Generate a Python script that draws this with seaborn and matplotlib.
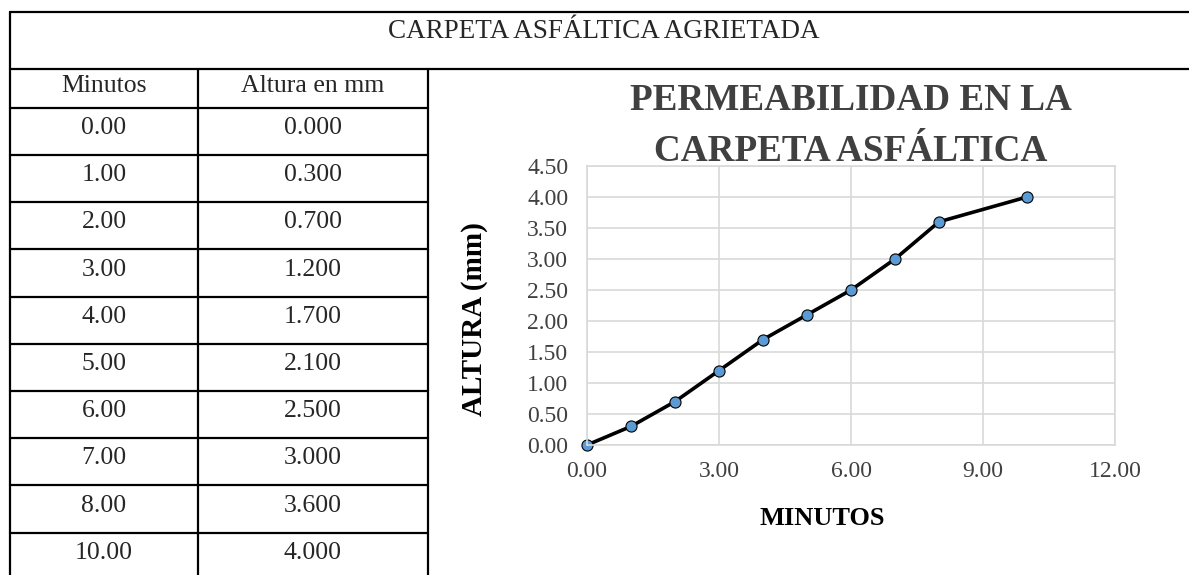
import matplotlib
matplotlib.use("Agg")
import matplotlib.pyplot as plt
import seaborn as sns
from matplotlib.lines import Line2D

minutos = [0.0, 1.0, 2.0, 3.0, 4.0, 5.0, 6.0, 7.0, 8.0, 10.0]
altura = [0.0, 0.3, 0.7, 1.2, 1.7, 2.1, 2.5, 3.0, 3.6, 4.0]
table_title = "CARPETA ASFÁLTICA AGRIETADA"
col_headers = ["Minutos", "Altura en mm"]
chart_title = ["PERMEABILIDAD EN LA", "CARPETA ASFÁLTICA"]
x_ticks = [0, 3, 6, 9, 12]
y_ticks = [0, 0.5, 1, 1.5, 2, 2.5, 3, 3.5, 4, 4.5]

sns.set_theme(style="white")
plt.rcParams['font.family'] = ['Liberation Serif', 'DejaVu Serif']

W, H = 1189, 575
fig = plt.figure(figsize=(W / 100, H / 100), dpi=100)


def fx(x):
    return x / W


def fy(y):
    return 1 - y / H


def hline(y, x0, x1):
    fig.add_artist(Line2D([fx(x0), fx(x1)], [fy(y), fy(y)], color='black',
                          lw=1.6, transform=fig.transFigure))


def vline(x, y0, y1):
    fig.add_artist(Line2D([fx(x), fx(x)], [fy(y0), fy(y1)], color='black',
                          lw=1.6, transform=fig.transFigure))


# --- table on the left ---
hline(12, 10, W)
hline(69, 10, W)
hline(108, 10, 428)
for i in range(len(minutos) - 1):
    hline(155 + 47.2 * i, 10, 428)
vline(10, 12, H)
vline(198, 69, H)
vline(428, 69, H)

tfs = 18.5
fig.text(fx(604), fy(38), table_title, ha='center', va='baseline', fontsize=19.5)
fig.text(fx(104), fy(92), col_headers[0], ha='center', va='baseline', fontsize=tfs)
fig.text(fx(313), fy(92), col_headers[1], ha='center', va='baseline', fontsize=tfs)
for i, (m, a) in enumerate(zip(minutos, altura)):
    yb = 134 + 47.2 * i
    fig.text(fx(104), fy(yb), f"{m:.2f}", ha='center', va='baseline', fontsize=tfs)
    fig.text(fx(313), fy(yb), f"{a:.3f}", ha='center', va='baseline', fontsize=tfs)

# --- chart on the right ---
ax = fig.add_axes([fx(587), fy(445), (1115 - 587) / W, (445 - 166) / H])
sns.lineplot(x=minutos, y=altura, ax=ax, color='black', linewidth=2.6,
             marker='o', markersize=8, markerfacecolor='#5B9BD5',
             markeredgecolor='black', markeredgewidth=0.8)
for ln in ax.lines:
    ln.set_clip_on(False)

ax.set_xlim(0, 12)
ax.set_ylim(0, 4.5)
ax.set_xticks(x_ticks)
ax.set_yticks(y_ticks)
ax.set_xticklabels([f"{v:.2f}" for v in x_ticks])
ax.set_yticklabels([f"{v:.2f}" for v in y_ticks])
ax.grid(True, color='#D9D9D9', linewidth=1.2)
ax.set_axisbelow(True)
for sp in ax.spines.values():
    sp.set_visible(True)
    sp.set_color('#D9D9D9')
    sp.set_linewidth(1.2)
ax.tick_params(axis='both', which='major', direction='out', length=4.5,
               width=1.2, color='#D9D9D9', labelsize=17, labelcolor='#404040')
ax.tick_params(axis='x', pad=7)
ax.tick_params(axis='y', pad=9)

ax.set_xlabel("MINUTOS", fontsize=19, fontweight='bold', color='black')
ax.xaxis.label.set_va('baseline')
ax.xaxis.set_label_coords((822 - 587) / 528, (445 - 525) / 279)
ax.set_ylabel("ALTURA (mm)", fontsize=21, fontweight='bold', color='black')
ax.yaxis.label.set_va('center')
ax.yaxis.set_label_coords((475 - 587) / 528, (445 - 319) / 279)

fig.text(fx(851), fy(110), chart_title[0], ha='center', va='baseline',
         fontsize=26.7, fontweight='bold', color='#404040')
fig.text(fx(851), fy(161), chart_title[1], ha='center', va='baseline',
         fontsize=26.7, fontweight='bold', color='#404040')

fig.savefig("out.png", dpi=100)
